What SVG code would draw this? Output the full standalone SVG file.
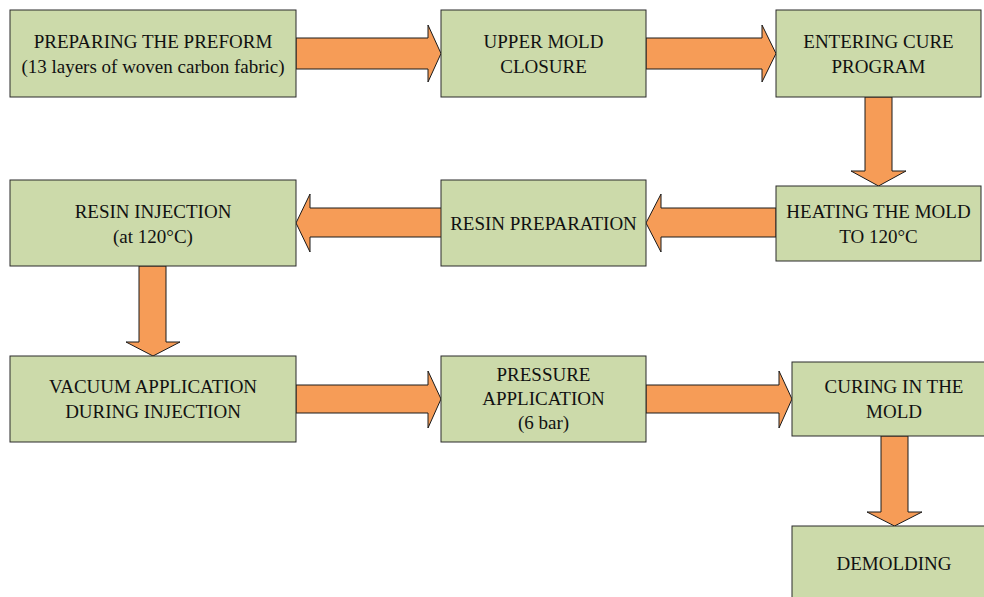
<svg xmlns="http://www.w3.org/2000/svg" width="984" height="597" viewBox="0 0 984 597">
<style>
.box{fill:#CCDAAA;stroke:#2b2b2b;stroke-width:1}
.arr{fill:#F69C57;stroke:#1a1a1a;stroke-width:1;stroke-linejoin:miter}
text{font-family:"Liberation Serif","Times New Roman",serif;font-size:19px;fill:#111;text-anchor:middle}
</style>
<rect width="984" height="597" fill="#ffffff"/>
<g id="connectors">
<polygon class="arr" points="296,38 428,38 428,25 441,53.5 428,82 428,69 296,69"/>
<polygon class="arr" points="646,38 762,38 762,25 776,53.5 762,82 762,69 646,69"/>
<polygon class="arr" points="865,97 892,97 892,171 906,171 878.5,186 851,171 865,171"/>
<polygon class="arr" points="776,208 661,208 661,194 646,223 661,252 661,237 776,237"/>
<polygon class="arr" points="442,208 310,208 310,194 296,223 310,252 310,237 442,237"/>
<polygon class="arr" points="139,266 166,266 166,342 180,342 153,356 126,342 139,342"/>
<polygon class="arr" points="296,385 428,385 428,371 441,399 428,428 428,413 296,413"/>
<polygon class="arr" points="646,385 779,385 779,371 792,399 779,428 779,413 646,413"/>
<polygon class="arr" points="881,436 908,436 908,512 922,512 894.5,526 867,512 881,512"/>
</g>
<g id="n1"><rect class="box" x="10" y="10" width="286" height="87"/><text x="153" y="47.5">PREPARING THE PREFORM</text><text x="153" y="72.5">(13 layers of woven carbon fabric)</text></g>
<g id="n2"><rect class="box" x="441" y="10" width="205" height="87"/><text x="543.5" y="47.5">UPPER MOLD</text><text x="543.5" y="72.5">CLOSURE</text></g>
<g id="n3"><rect class="box" x="776" y="10" width="205" height="87"/><text x="878.5" y="47.5">ENTERING CURE</text><text x="878.5" y="72.5">PROGRAM</text></g>
<g id="n4"><rect class="box" x="776" y="186" width="205" height="75"/><text x="878.5" y="217.5">HEATING THE MOLD</text><text x="878.5" y="243">TO 120°C</text></g>
<g id="n5"><rect class="box" x="441" y="180" width="205" height="86"/><text x="543.5" y="230">RESIN PREPARATION</text></g>
<g id="n6"><rect class="box" x="10" y="180" width="286" height="86"/><text x="153" y="217.5">RESIN INJECTION</text><text x="153" y="242.5">(at 120°C)</text></g>
<g id="n7"><rect class="box" x="10" y="356" width="286" height="86"/><text x="153" y="393">VACUUM APPLICATION</text><text x="153" y="418">DURING INJECTION</text></g>
<g id="n8"><rect class="box" x="441" y="356" width="205" height="86"/><text x="543.5" y="381">PRESSURE</text><text x="543.5" y="405">APPLICATION</text><text x="543.5" y="429">(6 bar)</text></g>
<g id="n9"><rect class="box" x="792" y="362" width="203" height="74"/><text x="894" y="393">CURING IN THE</text><text x="894" y="418">MOLD</text></g>
<g id="n10"><rect class="box" x="792" y="526" width="203" height="80"/><text x="894" y="570">DEMOLDING</text></g>
</svg>
